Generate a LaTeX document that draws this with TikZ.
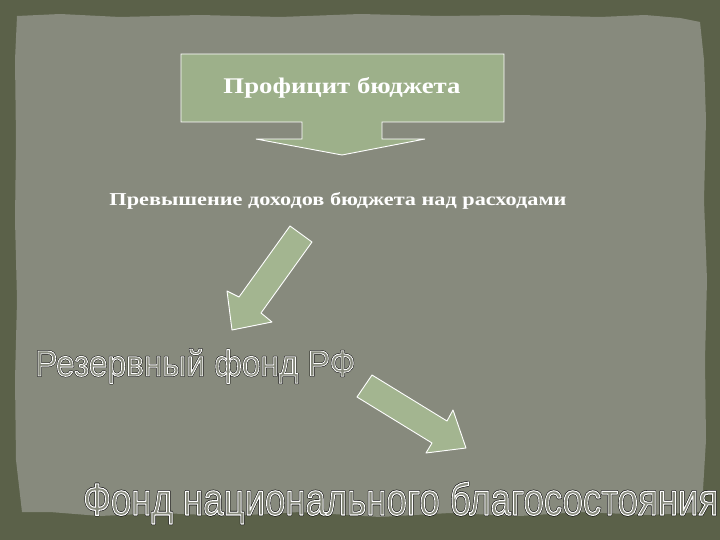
\documentclass[tikz,border=0pt]{standalone}
\usepackage{fontspec}
\usepackage{graphicx}
\setmainfont{Liberation Serif}
\newfontfamily\arialf{Liberation Sans}
\definecolor{outerbg}{HTML}{5B6149}
\definecolor{panel}{HTML}{878A7D}
\definecolor{sage}{HTML}{9DB08A}
\definecolor{sagel}{HTML}{A3B590}
% outlined text: black stroke underneath, then fill panel colour with white stroke
\newcommand{\blackline}[1]{{\color{black}\special{pdf:literal direct 1 Tr 0.5 w 0 0 0 RG 1 j}#1\special{pdf:literal direct 0 Tr}}}
\newcommand{\outlined}[1]{{\color{panel}\special{pdf:literal direct 2 Tr 0.24 w 1 1 1 RG 1 j}#1\special{pdf:literal direct 0 Tr}}}
\tikzset{
  frame/.style={fill=sage, draw=white, line width=0.9pt, line join=miter},
  arrowshape/.style={fill=sagel, draw=white, line width=0.9pt, line join=round},
  lbl/.style={inner sep=0pt, text=white, font=\bfseries},
  bigtxt/.style={inner sep=0pt, anchor=base west}
}
\begin{document}
\begin{tikzpicture}[x=1pt,y=-1pt]
\useasboundingbox (0,0) rectangle (720,540);
\fill[outerbg] (0,0) rectangle (720,540);
% torn panel
\fill[panel] (17,16) -- (60,14) -- (120,17) -- (200,15) -- (280,17) -- (360,14) -- (440,16) -- (520,15) -- (600,17) -- (645,15) -- (680,18) -- (700,22)
 -- (704,60) -- (706,120) -- (704,200) -- (707,280) -- (705,360) -- (706,440) -- (703,490) -- (700,512)
 -- (650,515) -- (580,512) -- (520,516) -- (450,513) -- (380,517) -- (300,512) -- (230,516) -- (160,513) -- (100,516) -- (50,512) -- (22,512)
 -- (16,460) -- (15,380) -- (17,300) -- (15,220) -- (16,140) -- (15,60) -- cycle;
% callout box
\draw[frame] (181,54) -- (504,54) -- (504,122) -- (382,122) -- (382,139) -- (425,139) -- (342,155) -- (256,139) -- (302,139) -- (302,122) -- (181,122) -- cycle;
\coordinate (boxc) at (342,88);
\node[lbl] (title) at (boxc) {\resizebox{237pt}{16pt}{Профицит бюджета}};
\node[lbl] (desc) at (338,201) {\resizebox{457pt}{13pt}{Превышение доходов бюджета над расходами}};
% arrow 1
\draw[arrowshape] (290,226) -- (312,242) -- (261,313) -- (272,322) -- (232,330) -- (227,291) -- (239,297) -- cycle;
% arrow 2
\draw[arrowshape] (372,375) -- (447,421) -- (453,410) -- (466,448) -- (426,453) -- (432,443) -- (357,397) -- cycle;
% big texts
\node[bigtxt] (rf) at (35,376) {\resizebox{320pt}{27pt}{\arialf\rlap{\blackline{Резервный фонд РФ}}\outlined{Резервный фонд РФ}}};
\node[bigtxt] (fnb) at (83,515) {\resizebox{635pt}{33pt}{\arialf\rlap{\blackline{Фонд национального благосостояния}}\outlined{Фонд национального благосостояния}}};
\end{tikzpicture}
\end{document}
